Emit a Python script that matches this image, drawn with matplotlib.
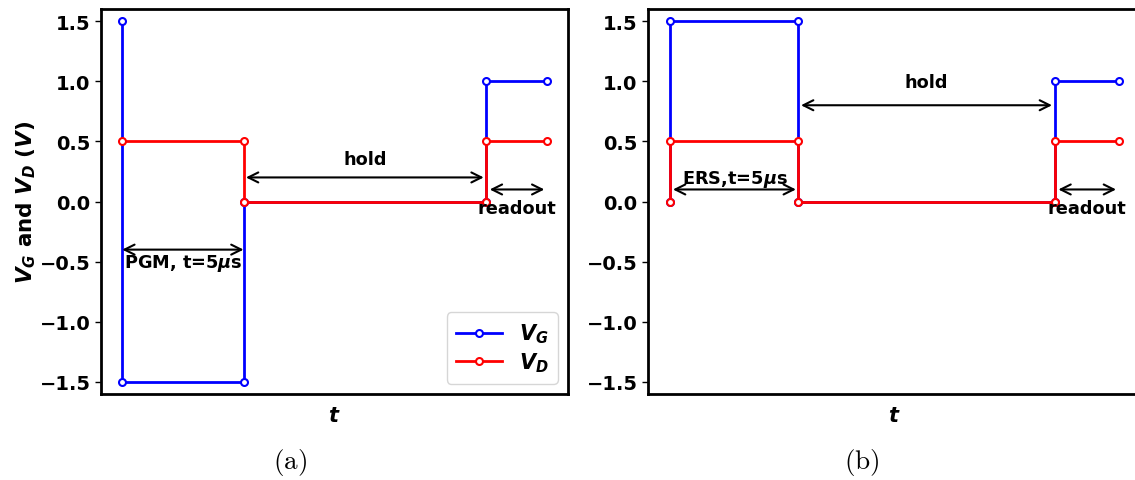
import matplotlib
matplotlib.use("Agg")
import matplotlib.pyplot as plt

# data (time in units of the 5 us pulse)
pgm_t_g = [0, 0, 1, 1, 3, 3, 3.5]
pgm_v_g = [1.5, -1.5, -1.5, 0, 0, 1.0, 1.0]
pgm_t_d = [0, 1, 1, 3, 3, 3.5]
pgm_v_d = [0.5, 0.5, 0, 0, 0.5, 0.5]

ers_t_g = [0, 0, 1, 1, 3, 3, 3.5]
ers_v_g = [0, 1.5, 1.5, 0, 0, 1.0, 1.0]
ers_t_d = [0, 0, 1, 1, 3, 3, 3.5]
ers_v_d = [0, 0.5, 0.5, 0, 0, 0.5, 0.5]

y_ticks = [-1.5, -1.0, -0.5, 0.0, 0.5, 1.0, 1.5]

plt.rcParams["mathtext.fontset"] = "custom"
plt.rcParams["mathtext.it"] = "DejaVu Sans:italic:bold"
plt.rcParams["mathtext.rm"] = "DejaVu Sans:bold"
plt.rcParams["mathtext.bf"] = "DejaVu Sans:bold"
plt.rcParams["font.weight"] = "bold"
plt.rcParams["axes.labelweight"] = "bold"

W, H = 1135, 481
fig = plt.figure(figsize=(W / 100, H / 100), dpi=100)

ax1 = fig.add_axes([101 / W, 1 - 395 / H, 467 / W, 385 / H])
ax2 = fig.add_axes([648 / W, 1 - 395 / H, 493 / W, 385 / H])

line_kw = dict(linewidth=2.0, marker="o", markersize=5, markerfacecolor="white",
               markeredgewidth=1.5)
arrow_kw = dict(arrowstyle="<->", color="black", lw=1.5, mutation_scale=18,
                shrinkA=0, shrinkB=0)
text_kw = dict(ha="center", va="center", fontsize=12.8, fontweight="bold")


def style_axis(ax):
    ax.set_ylim(-1.6, 1.6)
    ax.set_yticks(y_ticks)
    ax.set_xticks([])
    ax.tick_params(axis="y", labelsize=14, width=1, length=4)
    for lab in ax.get_yticklabels():
        lab.set_fontweight("bold")
    for sp in ax.spines.values():
        sp.set_linewidth(2.0)
    ax.set_xlabel("$t$", fontsize=15, labelpad=8)


# (a) program
ax1.plot(pgm_t_g, pgm_v_g, color="blue", label="$V_G$", **line_kw)
ax1.plot(pgm_t_d, pgm_v_d, color="red", label="$V_D$", **line_kw)
ax1.annotate("", xy=(0, -0.4), xytext=(1, -0.4), arrowprops=arrow_kw)
ax1.text(0.5, -0.51, r"PGM, t=5$\mu$s", **text_kw)
ax1.annotate("", xy=(1.02, 0.2), xytext=(2.98, 0.2), arrowprops=arrow_kw)
ax1.text(2.0, 0.35, "hold", **text_kw)
ax1.annotate("", xy=(3.03, 0.1), xytext=(3.48, 0.1), arrowprops=arrow_kw)
ax1.text(3.25, -0.055, "readout", **text_kw)
style_axis(ax1)
ax1.set_ylabel("$V_G$ and $V_D$ ($V$)", fontsize=15.5, fontweight="bold", labelpad=1)
ax1.legend(loc="lower right", fontsize=15, handlelength=2.2, borderpad=0.45,
           labelspacing=0.25, handletextpad=0.8)

# (b) erase
ax2.plot(ers_t_g, ers_v_g, color="blue", **line_kw)
ax2.plot(ers_t_d, ers_v_d, color="red", **line_kw)
ax2.annotate("", xy=(0.02, 0.1), xytext=(0.98, 0.1), arrowprops=arrow_kw)
ax2.text(0.5, 0.195, r"ERS,t=5$\mu$s", **text_kw)
ax2.annotate("", xy=(1.02, 0.8), xytext=(2.98, 0.8), arrowprops=arrow_kw)
ax2.text(2.0, 0.99, "hold", **text_kw)
ax2.annotate("", xy=(3.03, 0.1), xytext=(3.48, 0.1), arrowprops=arrow_kw)
ax2.text(3.25, -0.055, "readout", **text_kw)
style_axis(ax2)

fig.text(290 / W, 1 - 462 / H, r"$\mathrm{(a)}$", math_fontfamily="cm",
         ha="center", va="center", fontsize=19.5)
fig.text(862 / W, 1 - 462 / H, r"$\mathrm{(b)}$", math_fontfamily="cm",
         ha="center", va="center", fontsize=19.5)

fig.savefig("out.png", dpi=100)
